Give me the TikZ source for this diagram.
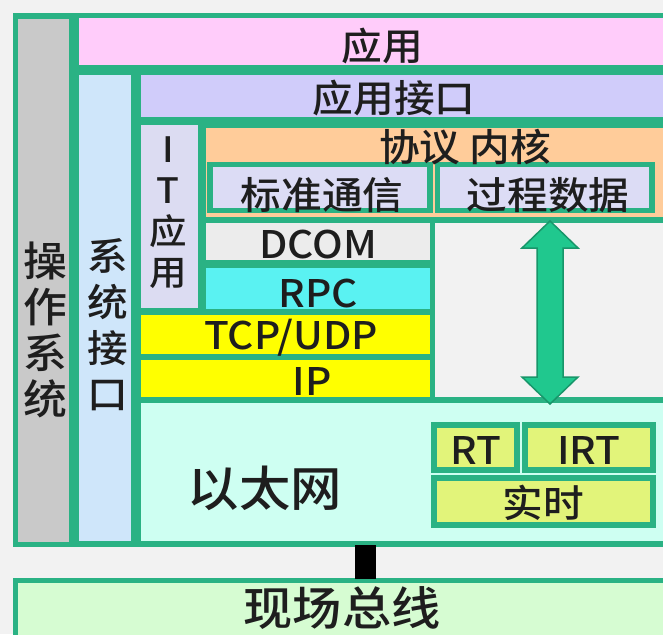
\documentclass[tikz,border=0pt]{standalone}
\usepackage{fontspec}
\setmainfont{Noto Sans CJK SC}[FakeStretch=1.07, BoldFont={* Medium}, BoldFeatures={FakeStretch=1.07}]
\definecolor{gline}{RGB}{42,178,132}
\definecolor{bgc}{RGB}{242,242,242}
\definecolor{osc}{RGB}{201,201,201}
\definecolor{pinkc}{RGB}{255,204,250}
\definecolor{sysc}{RGB}{207,230,250}
\definecolor{lavc}{RGB}{208,204,250}
\definecolor{itc}{RGB}{220,220,242}
\definecolor{orc}{RGB}{255,204,154}
\definecolor{subc}{RGB}{220,220,245}
\definecolor{dcomc}{RGB}{236,236,236}
\definecolor{rpcc}{RGB}{90,242,242}
\definecolor{yelc}{RGB}{255,255,0}
\definecolor{ethc}{RGB}{206,255,242}
\definecolor{rtc}{RGB}{226,244,122}
\definecolor{fbc}{RGB}{214,252,210}
\definecolor{arrc}{RGB}{32,200,142}
\definecolor{arrd}{RGB}{24,150,106}
\definecolor{ink}{RGB}{30,30,30}
\newcommand\fsz[2]{\fontsize{#1pt}{#2pt}\selectfont\bfseries}
\tikzset{
  box/.style={rectangle, draw=gline, line width=5.5pt, inner sep=0pt},
  txt/.style={inner sep=0pt, text=ink, font=\fsz{38}{44}},
}
\begin{document}
\begin{tikzpicture}[x=1pt,y=-1pt]
\useasboundingbox (0,0) rectangle (663,634);
\fill[bgc] (0,0) rectangle (663,634);
% frame and columns
\node[box, fill=bgc,  minimum width=652.5pt, minimum height=528.5pt] (frame) at (341.75,280.25) {};
\node[box, fill=osc,  minimum width=56.5pt,  minimum height=528.5pt] (os)    at (43.75,280.25) {};
\node[box, fill=pinkc,minimum width=592pt,   minimum height=52.5pt]  (app)   at (372,41.75) {};
\node[box, fill=sysc, minimum width=58pt,    minimum height=472pt]   (sys)   at (105,308) {};
\node[box, fill=lavc, minimum width=530pt,   minimum height=48pt]    (api)   at (403,96) {};
\node[box, fill=itc,  minimum width=62.5pt,  minimum height=188pt]   (it)    at (169.25,216.5) {};
\node[box, fill=orc,  minimum width=465pt,   minimum height=94.5pt]  (kern)  at (435.5,172.75) {};
\node[box, fill=subc, minimum width=220pt,   minimum height=46pt]    (std)   at (320,187.5) {};
\node[box, fill=subc, minimum width=214.5pt, minimum height=46pt]    (proc)  at (544.75,187.5) {};
\node[box, fill=dcomc,minimum width=229.5pt, minimum height=43pt]    (dcom)  at (317.75,241.5) {};
\node[box, fill=rpcc, minimum width=229.5pt, minimum height=46.5pt]  (rpc)   at (317.75,288.75) {};
\node[box, fill=yelc, minimum width=294.5pt, minimum height=45pt]    (tcp)   at (285.25,334.5) {};
\node[box, fill=yelc, minimum width=294.5pt, minimum height=42.5pt]  (ip)    at (285.25,378.75) {};
\node[box, fill=ethc, minimum width=530pt,   minimum height=144pt]   (eth)   at (403,472) {};
\node[box, fill=rtc,  minimum width=83pt,    minimum height=45pt]    (rt)    at (475.5,447.5) {};
\node[box, fill=rtc,  minimum width=128pt,   minimum height=45pt]    (irt)   at (589,447.5) {};
\node[box, fill=rtc,  minimum width=219pt,   minimum height=47pt]    (real)  at (543.5,501.5) {};
\node[box, fill=fbc,  minimum width=652.5pt, minimum height=60pt]    (fb)    at (341.75,610.5) {};
\node[fill=black, inner sep=0pt, minimum width=21pt, minimum height=34pt] (link) at (365.5,562) {};
% double arrow between process data and ethernet
\filldraw[fill=arrc, draw=arrd, line width=1.5pt]
  (550,221) -- (578,248) -- (563,248) -- (563,377) -- (578,377) -- (550,404)
  -- (522,377) -- (537,377) -- (537,248) -- (522,248) -- cycle;
% texts
\node[txt] (appT)  at (382,46) {应用};
\node[txt] (apiT)  at (394,98) {应用接口};
\node[txt] (kernT) at (465,147) {协议 内核};
\node[txt] (stdT)  at (322,195) {标准通信};
\node[txt] (procT) at (548,195) {过程数据};
\node[txt] (dcomT) at (318,245) {DCOM};
\node[txt] (rpcT)  at (318,294) {RPC};
\node[txt] (tcpT)  at (291,338) {TCP/UDP};
\node[txt] (ipT)   at (312,381) {IP};
\node[txt, font=\fsz{48}{52}] (ethT) at (265,488) {以太网};
\node[txt] (rtT)   at (475.5,450) {RT};
\node[txt] (irtT)  at (589,450) {IRT};
\node[txt] (realT) at (543.5,503) {实时};
\node[txt, font=\fsz{46}{50}] (fbT) at (342,608) {现场总线};
\node[txt, align=center, font=\fsz{41}{46}] (osT)  at (45,330) {操\\作\\系\\统};
\node[txt, align=center, font=\fsz{38}{46}] (sysT) at (108,325) {系\\统\\接\\口};
\node[txt, align=center, font=\fsz{35}{41}] (itT)  at (168,213) {I\\T\\应\\用};
\end{tikzpicture}
\end{document}
